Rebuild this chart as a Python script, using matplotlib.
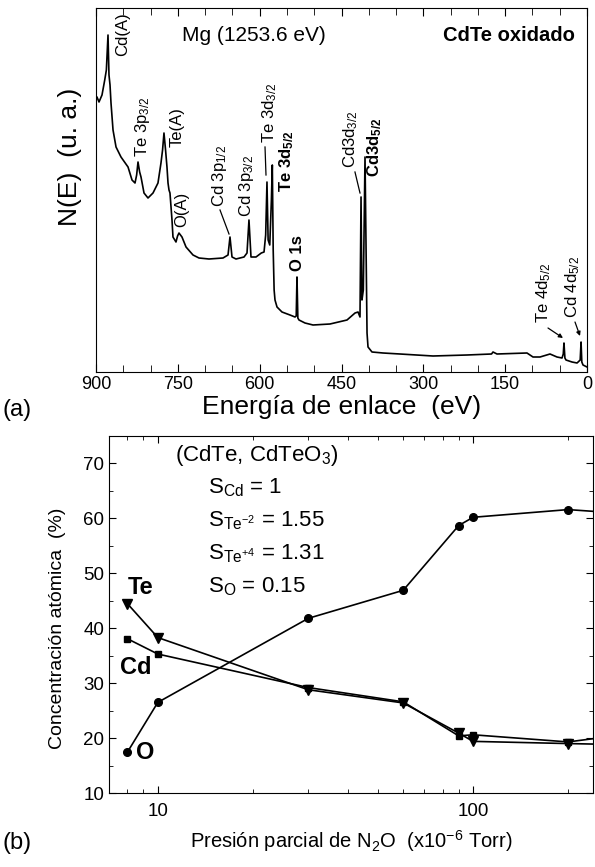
# =============================================================================
# XPS survey of oxidised CdTe (a) and atomic concentration vs N2O pressure (b)
# =============================================================================
import matplotlib
matplotlib.use('Agg')
import matplotlib.pyplot as plt
from matplotlib.ticker import MultipleLocator, LogLocator, NullFormatter, FuncFormatter

plt.rcParams['font.family'] = ['Liberation Sans', 'DejaVu Sans']
plt.rcParams['mathtext.fontset'] = 'custom'
plt.rcParams['mathtext.rm'] = 'Liberation Sans'
plt.rcParams['mathtext.it'] = 'Liberation Sans:italic'
plt.rcParams['mathtext.bf'] = 'Liberation Sans:bold'

# -----------------------------------------------------------------------------
# Survey spectrum (binding energy in eV, counts in arbitrary units)
energy = [900, 898.2, 894.5, 889, 884, 881, 878, 876.2, 874.3, 872.5, 868.8,
          863.3, 854.2, 841.3, 834, 828.5, 825.5, 823, 820, 817.5, 812, 804.7,
          795.5, 786.4, 780.9, 778, 775.4, 772.5, 769.9, 768, 766.2, 764.4,
          760.7, 758.9, 753.4, 750.5, 747.9, 742.4, 735, 722.2, 711.2, 692.9,
          667.2, 658, 654.4, 650.7, 643.4, 628.7, 623.2, 619.6, 615.9, 606.7,
          597, 592, 589, 586.6, 584.5, 581.5, 578.5, 576.8, 575.2, 573.5,
          571.9, 568.2, 559.1, 544.4, 535.2, 533, 531.6, 530, 527.9, 516.9,
          502.2, 471.1, 439.9, 425.2, 419.7, 416.1, 414.2, 412.5, 410, 406.9,
          403.2, 401.4, 394.1, 373.9, 342.8, 282.3, 220, 175, 172.3, 165, 110,
          99, 86.1, 67.8, 55, 45.8, 43.5, 42.2, 40.5, 38.5, 27.5, 18.2, 12.5,
          10.9, 9.5, 7.3, 0]
counts = [275, 275, 270, 277, 292, 302, 337, 297, 287, 269, 242,
          225, 215, 205, 192, 189, 197, 210, 200, 195, 179, 174,
          179, 189, 209, 222, 239, 222, 205, 189, 182, 179,
          152, 135, 130, 136, 139, 135, 125, 117, 114, 113,
          114, 117, 135, 115, 113, 115, 119, 152, 115, 115,
          119, 120, 137, 190, 132, 127, 172, 207, 122, 82,
          72, 65, 60, 57, 55, 56, 95, 54, 52, 49,
          47, 48, 52, 59, 60, 55, 175, 72, 82, 215,
          39, 25, 20, 19, 18, 16, 17, 18, 20, 18, 19,
          15, 15, 18, 15, 14, 18, 29, 14, 12, 10, 9, 12,
          30, 10, 7, 5]

# Peak labels: text, energy, height of the label base, bold or not
peak_text = ['Cd(A)', r'Te 3p$\mathregular{_{3/2}}$', 'Te(A)', 'O(A)',
             r'Cd 3p$\mathregular{_{1/2}}$', r'Cd 3p$\mathregular{_{3/2}}$',
             r'Te 3d$\mathregular{_{3/2}}$', r'Te 3d$\mathbf{_{5/2}}$', 'O 1s',
             r'Cd3d$\mathregular{_{3/2}}$', r'Cd3d$\mathbf{_{5/2}}$',
             r'Te 4d$\mathregular{_{5/2}}$', r'Cd 4d$\mathregular{_{5/2}}$']
peak_x = [852, 814, 751, 742, 674, 625, 581, 550, 530, 433, 390, 79, 26]
peak_y = [316, 215, 225, 145, 165, 155, 229, 180, 101, 204, 195, 49, 54]
peak_bold = [False, False, False, False, False, False, False, True, True,
             False, True, False, False]

# Leader lines from labels to peaks: (x0, y0, x1, y1)
leaders = [(672.7, 162, 656.2, 138), (590.2, 225, 588.4, 197),
           (425.3, 200, 416.1, 179), (71.5, 44, 44.0, 34), (22.0, 50, 12.8, 36)]

# -----------------------------------------------------------------------------
# Atomic concentration vs N2O partial pressure (x10^-6 Torr)
pressure = [8, 10, 30, 60, 90, 100, 200, 300]
conc_O = [17.4, 26.5, 41.8, 46.9, 58.7, 60.2, 61.6, 60.9]
conc_Te = [44.5, 38.3, 28.8, 26.4, 20.9, 19.4, 19.0, 18.8]
conc_Cd = [38.1, 35.3, 29.2, 26.6, 20.4, 20.6, 19.3, 20.6]

# =============================================================================
fig = plt.figure(figsize=(5.95, 8.67), dpi=100)

# ---------------------------------------------------------------- panel (a)
ax1 = fig.add_axes([96/595, 1 - 372/867, 491/595, 364/867])
ax1.plot(energy, counts, color='k', lw=1.2)
ax1.set_xlim(900, 0)
ax1.set_ylim(0, 364)
ax1.xaxis.set_major_locator(MultipleLocator(150))
ax1.xaxis.set_minor_locator(MultipleLocator(50))
ax1.set_yticks([])
ax1.tick_params(axis='x', which='both', direction='in', top=True,
                labelsize=13, pad=3)
ax1.tick_params(axis='x', which='major', length=6)
ax1.tick_params(axis='x', which='minor', length=5)
ax1.set_xlabel('Energía de enlace  (eV)', fontsize=19, labelpad=1)

for t, x, y, b in zip(peak_text, peak_x, peak_y, peak_bold):
    ax1.text(x, y, t, rotation=90, ha='center', va='bottom', fontsize=12,
             fontweight='bold' if b else 'normal')
for i, (x0, y0, x1, y1) in enumerate(leaders):
    if i >= 3:
        ax1.annotate('', xy=(x1, y1), xytext=(x0, y0),
                     arrowprops=dict(arrowstyle='-|>', color='k', lw=0.9,
                                     mutation_scale=6, shrinkA=0, shrinkB=0))
    else:
        ax1.plot([x0, x1], [y0, y1], color='k', lw=0.9)

ax1.text(0.175, 0.91, 'Mg (1253.6 eV)', transform=ax1.transAxes, fontsize=15)
ax1.text(0.975, 0.91, 'CdTe oxidado', transform=ax1.transAxes, fontsize=14.5,
         fontweight='bold', ha='right')
fig.text(70/595, 1 - 157/867, 'N(E)  (u. a.)', rotation=90, fontsize=19,
         ha='center', va='center')
fig.text(2/595, 1 - 410/867, '(a)', fontsize=17, va='center')

# ---------------------------------------------------------------- panel (b)
ax2 = fig.add_axes([109/595, 1 - 793/867, 484/595, 357/867])
ax2.set_xscale('log')
ax2.plot(pressure, conc_O, color='k', lw=1.2, marker='o', ms=5.5)
ax2.plot(pressure, conc_Te, color='k', lw=1.2, marker='v', ms=6.5)
ax2.plot(pressure, conc_Cd, color='k', lw=1.2, marker='s', ms=4.5)
ax2.set_xlim(7, 240)
ax2.set_ylim(10, 75)
ax2.xaxis.set_major_locator(LogLocator(base=10))
ax2.xaxis.set_minor_locator(LogLocator(base=10, subs=range(2, 10)))
ax2.xaxis.set_major_formatter(FuncFormatter(lambda v, p: '%d' % v))
ax2.xaxis.set_minor_formatter(NullFormatter())
ax2.yaxis.set_major_locator(MultipleLocator(10))
ax2.yaxis.set_minor_locator(MultipleLocator(5))
ax2.tick_params(which='both', direction='in', top=True, right=True,
                labelsize=13.5)
ax2.tick_params(axis='x', which='both', pad=7)
ax2.tick_params(which='major', length=5)
ax2.tick_params(which='minor', length=3)
ax2.set_xlabel(r'Presión parcial de N$\mathregular{_2}$O  (x10$\mathregular{^{-6}}$ Torr)',
               fontsize=14.5, labelpad=6)

ax2.text(8.84, 47.5, 'Te', fontsize=17, fontweight='bold', ha='center', va='center')
ax2.text(8.5, 32.9, 'Cd', fontsize=17, fontweight='bold', ha='center', va='center')
ax2.text(9.1, 17.3, 'O', fontsize=17, fontweight='bold', ha='center', va='center')

legend_lines = [r'(CdTe, CdTeO$\mathregular{_3}$)',
                r'S$\mathregular{_{Cd}}$ = 1',
                r'S$\mathregular{_{Te^{-2}}}$ = 1.55',
                r'S$\mathregular{_{Te^{+4}}}$ = 1.31',
                r'S$\mathregular{_O}$ = 0.15']
text_x = [175, 208, 208, 208, 208]
text_y = [455, 488, 521, 554, 587]
for s, x, y in zip(legend_lines, text_x, text_y):
    fig.text(x/595, 1 - y/867, s, fontsize=16, va='center')

fig.text(57/595, 1 - 628/867, 'Concentración atómica  (%)', rotation=90,
         fontsize=14, ha='center', va='center')
fig.text(2/595, 1 - 843/867, '(b)', fontsize=17, va='center')

fig.savefig('out.png', dpi=100)
